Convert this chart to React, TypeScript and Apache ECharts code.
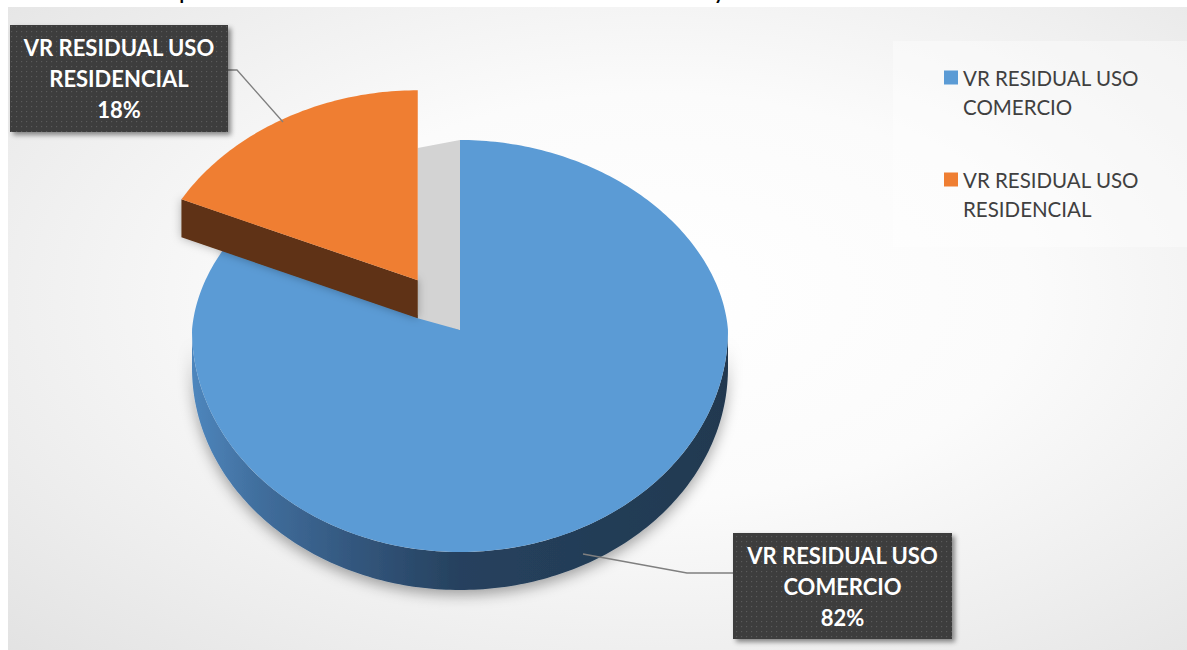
import React, { useEffect, useRef } from 'react';
import * as echarts from 'echarts';

const categories = ['VR RESIDUAL USO COMERCIO', 'VR RESIDUAL USO RESIDENCIAL'];
const values = [82, 18];
const chartTitle = 'Gráfica 1. Comparativo de valores residuales de uso comercio y residencial';

const TOP_COLORS = ['#5b9bd5', '#ef7e32'];
const FACE_COLORS = ['#223a51', '#5e3214'];
const WALL_STOPS = [
  [
    { offset: 0, color: '#4e86bd' },
    { offset: 0.12, color: '#416f9e' },
    { offset: 0.3, color: '#33577e' },
    { offset: 0.5, color: '#26415e' },
    { offset: 1, color: '#213950' },
  ],
  [
    { offset: 0, color: '#7a4119' },
    { offset: 1, color: '#5e3214' },
  ],
];
const EXPLODE = [0, 0.31];
const CX = 460;
const CY = 330;
const RX = 268;
const RX_BACK_SHRINK = 0.06;
const RY_BACK = 190;
const RY_FRONT = 222;
const DEPTH = 38;

const LABEL_LAYOUT = [
  { x: 733, y: 533, w: 219, h: 106, anchor: [583, 554], elbow: [687, 573], end: [733, 573] },
  { x: 10, y: 25, w: 218, h: 107, anchor: [283, 122], elbow: [237, 70], end: [228, 70] },
];

const DOT_TILE =
  'data:image/svg+xml;charset=utf-8,' +
  encodeURIComponent(
    '<svg xmlns="http://www.w3.org/2000/svg" width="5" height="5"><rect width="5" height="5" fill="#3c3c3c"/><rect x="1" y="1" width="1.2" height="1.2" fill="#5a5a5a"/></svg>'
  );

const total = values.reduce((s, v) => s + v, 0);
const startAngles: number[] = [];
values.reduce((acc, v) => {
  startAngles.push((acc / total) * 360);
  return acc + v;
}, 0);

function ellPt(tip: number[], deg: number, dy = 0): number[] {
  const r = (deg * Math.PI) / 180;
  const s = Math.sin(r);
  const c = Math.cos(r);
  const rx = RX * (1 - RX_BACK_SHRINK * Math.max(0, c));
  return [tip[0] + rx * s, tip[1] - (c >= 0 ? RY_BACK : RY_FRONT) * c + dy];
}

function arcPts(tip: number[], a: number, b: number, dy = 0): number[][] {
  const n = Math.max(2, Math.ceil(Math.abs(b - a)));
  const out: number[][] = [];
  for (let k = 0; k <= n; k++) out.push(ellPt(tip, a + ((b - a) * k) / n, dy));
  return out;
}

function makeRender(i: number) {
  return (_params: any, api: any) => {
    const v = api.value(0);
    const a = startAngles[i];
    const b = a + (v / total) * 360;
    const mid = (a + b) / 2;
    const o = ellPt([0, 0], mid);
    const tip = [CX + o[0] * EXPLODE[i], CY + o[1] * EXPLODE[i]];
    const children: any[] = [];

    if (EXPLODE[i] > 0) {
      children.push({
        type: 'polygon',
        shape: {
          points: [
            [tip[0], CY - RY_BACK + 8],
            [CX, CY - RY_BACK],
            [CX, CY],
            [tip[0], tip[1] + DEPTH],
          ],
        },
        style: { fill: '#d3d3d3' },
      });
    }

    [a, b].forEach((e) => {
      const p = ellPt(tip, e);
      if (Math.abs(p[0] - tip[0]) < 1) return;
      children.push({
        type: 'polygon',
        shape: { points: [tip, p, [p[0], p[1] + DEPTH], [tip[0], tip[1] + DEPTH]] },
        style: { fill: FACE_COLORS[i], shadowBlur: 10, shadowColor: 'rgba(0,0,0,0.3)' },
      });
    });

    const lo = Math.max(a, 90);
    const hi = Math.min(b, 270);
    if (hi > lo) {
      const pts = arcPts(tip, lo, hi).concat(arcPts(tip, hi, lo, DEPTH));
      children.push({
        type: 'polygon',
        shape: { points: pts },
        style: {
          fill: new echarts.graphic.LinearGradient(0, 0, 1, 0, WALL_STOPS[i]),
          shadowBlur: 14,
          shadowOffsetY: 5,
          shadowColor: 'rgba(0,0,0,0.35)',
        },
      });
    }

    children.push({
      type: 'polygon',
      shape: { points: [tip].concat(arcPts(tip, a, b)) },
      style: { fill: TOP_COLORS[i] },
    });

    const L = LABEL_LAYOUT[i];
    const name = categories[i];
    const pct = Math.round((v / total) * 100) + '%';
    children.push({
      type: 'polyline',
      shape: { points: [L.anchor, L.elbow, L.end] },
      style: { stroke: '#7f7f7f', lineWidth: 1.3, fill: null },
    });
    children.push({
      type: 'rect',
      shape: { x: L.x, y: L.y, width: L.w, height: L.h },
      style: {
        fill: { image: DOT_TILE, repeat: 'repeat', imageWidth: 5, imageHeight: 5 },
        shadowBlur: 5,
        shadowOffsetX: 3,
        shadowOffsetY: 3,
        shadowColor: 'rgba(0,0,0,0.45)',
      },
    });
    children.push({
      type: 'text',
      style: {
        text: name.replace('USO ', 'USO\n') + '\n' + pct,
        x: L.x + L.w / 2,
        y: L.y + L.h / 2,
        align: 'center',
        verticalAlign: 'middle',
        fill: '#ffffff',
        fontSize: 22,
        fontWeight: 'bold',
        fontFamily: 'Lato',
        lineHeight: 31,
      },
    });

    return { type: 'group', children };
  };
}

export default function App() {
  const ref = useRef<HTMLDivElement>(null);
  useEffect(() => {
    if (!ref.current) return;
    const chart = echarts.init(ref.current, null, { renderer: 'svg' });
    const W = 1179;
    const H = 643;
    const sy = 1.29;
    const localH = H / sy;
    const option: any = {
      animation: false,
      graphic: [
        {
          type: 'rect',
          x: 8,
          y: 7,
          scaleY: sy,
          z: -10,
          shape: { x: 0, y: 0, width: W, height: localH },
          style: {
            fill: new echarts.graphic.RadialGradient(0.55, 0.45, (1.1 * 648) / localH, [
              { offset: 0, color: '#ffffff' },
              { offset: 0.22, color: '#fbfbfb' },
              { offset: 0.41, color: '#ededed' },
              { offset: 0.73, color: '#d4d4d4' },
              { offset: 0.91, color: '#c8c8c8' },
              { offset: 1, color: '#bfbfbf' },
            ]),
          },
        },
        {
          type: 'rect',
          z: -5,
          shape: { x: 893, y: 41, width: 300, height: 206 },
          style: { fill: 'rgba(255,255,255,0.4)' },
        },
        {
          type: 'text',
          z: -20,
          style: {
            text: chartTitle,
            x: 10,
            y: 1,
            align: 'left',
            verticalAlign: 'bottom',
            fill: '#000000',
            fontSize: 26,
            fontFamily: 'Lato',
          },
        },
      ],
      legend: {
        orient: 'vertical',
        left: 944,
        top: 34,
        padding: 0,
        itemWidth: 14,
        itemHeight: 14,
        itemGap: 15,
        icon: 'rect',
        selectedMode: false,
        data: categories,
        formatter: (n: string) => '\n' + n.replace('USO ', 'USO\n'),
        textStyle: { fontSize: 20.5, fontFamily: 'Lato', color: '#404040', lineHeight: 29 },
      },
      series: categories.map((name, i) => ({
        type: 'custom',
        name,
        coordinateSystem: 'none',
        silent: true,
        itemStyle: { color: TOP_COLORS[i] },
        data: [values[i]],
        renderItem: makeRender(i),
        z: 2 + i,
      })),
    };
    chart.setOption(option);
    return () => chart.dispose();
  }, []);
  return (
    <div
      ref={ref}
      style={{ position: 'absolute', left: 0, top: 0, width: 1187, height: 650 }}
    />
  );
}
